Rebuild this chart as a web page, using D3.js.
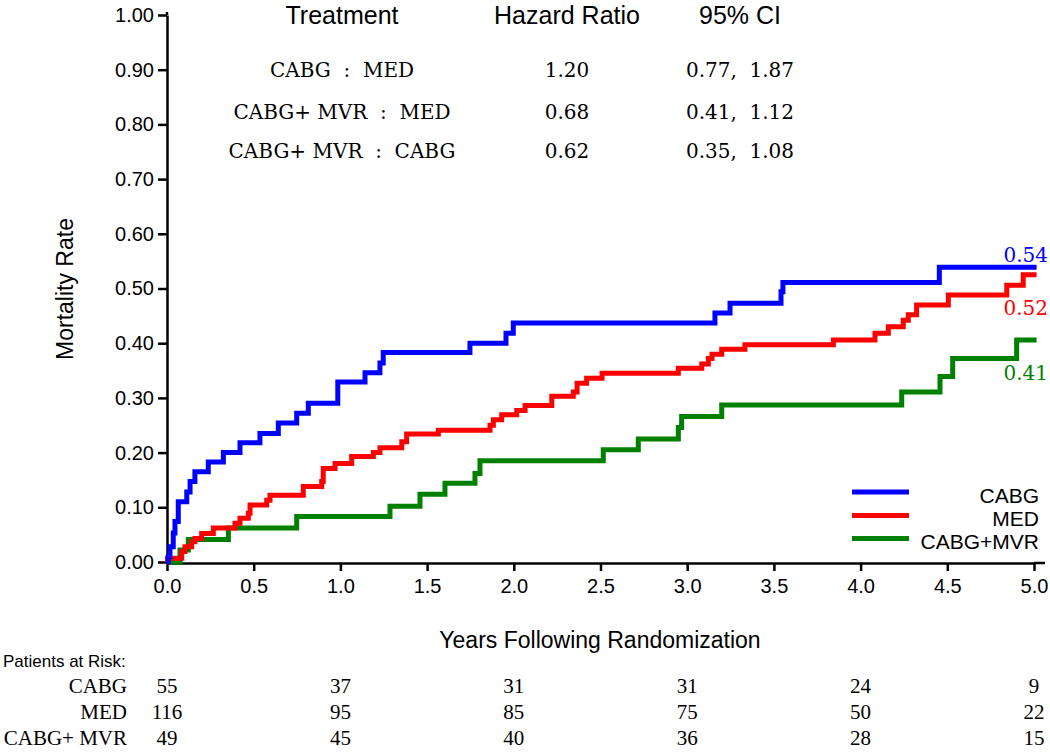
<!DOCTYPE html>
<html>
<head>
<meta charset="utf-8">
<script src="https://cdn.jsdelivr.net/npm/d3@7/dist/d3.min.js"></script>
<style>
  html, body { margin: 0; padding: 0; background: #fff; }
  svg { display: block; }
  text { white-space: pre; }
</style>
</head>
<body>
<svg id="chart" width="1050" height="752"></svg>
<script>
// ---------- DATA ----------
const seriesNames = ["CABG", "MED", "CABG+MVR"];
const seriesColors = ["#0000ff", "#ff0000", "#008000"];

const cabgYears = [0, 0.008, 0.017, 0.036, 0.046, 0.065, 0.114, 0.133, 0.161, 0.238, 0.325, 0.421, 0.536, 0.642, 0.748, 0.815, 0.985, 1.142, 1.228, 1.247, 1.747, 1.955, 1.997, 3.160, 3.247, 3.541, 3.552, 4.454, 5.015];
const cabgRates = [0, 0.010, 0.028, 0.053, 0.074, 0.110, 0.128, 0.147, 0.165, 0.183, 0.200, 0.218, 0.235, 0.254, 0.272, 0.290, 0.329, 0.346, 0.364, 0.383, 0.400, 0.418, 0.437, 0.455, 0.473, 0.494, 0.511, 0.539, 0.539];

const medYears = [0, 0.003, 0.085, 0.104, 0.142, 0.161, 0.200, 0.267, 0.392, 0.421, 0.469, 0.479, 0.575, 0.594, 0.786, 0.892, 0.901, 0.969, 1.065, 1.190, 1.228, 1.354, 1.382, 1.565, 1.863, 1.882, 1.930, 2.017, 2.065, 2.219, 2.343, 2.365, 2.420, 2.509, 2.949, 3.084, 3.122, 3.143, 3.199, 3.333, 3.843, 4.083, 4.160, 4.246, 4.275, 4.323, 4.506, 4.843, 4.938, 5.015];
const medRates = [0, 0.007, 0.019, 0.028, 0.037, 0.043, 0.052, 0.062, 0.071, 0.080, 0.089, 0.104, 0.113, 0.122, 0.138, 0.147, 0.171, 0.180, 0.193, 0.200, 0.209, 0.220, 0.234, 0.241, 0.250, 0.260, 0.269, 0.277, 0.286, 0.303, 0.311, 0.327, 0.336, 0.345, 0.354, 0.362, 0.372, 0.380, 0.389, 0.397, 0.406, 0.418, 0.430, 0.442, 0.452, 0.470, 0.488, 0.506, 0.525, 0.525];

const mvrYears = [0, 0.075, 0.123, 0.354, 0.748, 1.286, 1.459, 1.603, 1.776, 1.805, 2.516, 2.718, 2.949, 2.968, 3.199, 4.237, 4.458, 4.531, 4.900, 5.015];
const mvrRates = [0, 0.022, 0.041, 0.062, 0.083, 0.102, 0.124, 0.144, 0.162, 0.185, 0.205, 0.225, 0.246, 0.266, 0.287, 0.311, 0.339, 0.372, 0.406, 0.406];

const endLabels = ["0.54", "0.52", "0.41"];

const yTicks = [0, 0.1, 0.2, 0.3, 0.4, 0.5, 0.6, 0.7, 0.8, 0.9, 1.0];
const xTicks = [0, 0.5, 1, 1.5, 2, 2.5, 3, 3.5, 4, 4.5, 5];

const hrHeaders = ["Treatment", "Hazard Ratio", "95% CI"];
const hrComparisons = ["CABG  :  MED", "CABG+ MVR  :  MED", "CABG+ MVR  :  CABG"];
const hrValues = ["1.20", "0.68", "0.62"];
const hrCIs = ["0.77,  1.87", "0.41,  1.12", "0.35,  1.08"];

const riskYears = [0, 1, 2, 3, 4, 5];
const riskGroups = ["CABG", "MED", "CABG+ MVR"];
const riskCABG = [55, 37, 31, 31, 24, 9];
const riskMED = [116, 95, 85, 75, 50, 22];
const riskMVR = [49, 45, 40, 36, 28, 15];

// ---------- LAYOUT ----------
const svg = d3.select("#chart");
const x = d3.scaleLinear().domain([0, 5]).range([167, 1034]);
const y = d3.scaleLinear().domain([0, 1]).range([562, 15]);
const sans = "'Liberation Sans', Arial, sans-serif";
const serif = "'DejaVu Serif', serif";
const serif2 = "'Liberation Serif', 'Times New Roman', serif";

// axes
const yAxis = svg.append("g")
  .attr("transform", `translate(${x(0)},0)`)
  .call(d3.axisLeft(y).tickValues(yTicks).tickFormat(d3.format(".2f")).tickSize(9).tickSizeOuter(0).tickPadding(4));
const xAxis = svg.append("g")
  .attr("transform", `translate(0,${y(0) + 1})`)
  .call(d3.axisBottom(x).tickValues(xTicks).tickFormat(d3.format(".1f")).tickSize(8).tickSizeOuter(0).tickPadding(8));
[yAxis, xAxis].forEach(g => {
  g.select(".domain").attr("stroke", "#000").attr("stroke-width", 2.5);
  g.selectAll(".tick line").attr("stroke", "#000").attr("stroke-width", 2.5);
  g.selectAll(".tick text").attr("font-family", sans).attr("font-size", 20).attr("fill", "#000");
});
// axis line extension past 5.0
svg.append("line").attr("x1", x(5)).attr("x2", x(5) + 11)
  .attr("y1", y(0) + 1).attr("y2", y(0) + 1).attr("stroke", "#000").attr("stroke-width", 2.5);
svg.append("line").attr("x1", x(0)).attr("x2", x(0))
  .attr("y1", y(1) - 3).attr("y2", y(1)).attr("stroke", "#000").attr("stroke-width", 2.5);

// axis titles
svg.append("text").attr("x", 600).attr("y", 648).attr("text-anchor", "middle")
  .attr("font-family", sans).attr("font-size", 23).text("Years Following Randomization");
svg.append("text").attr("transform", "translate(73,289) rotate(-90)").attr("text-anchor", "middle")
  .attr("font-family", sans).attr("font-size", 23).text("Mortality Rate");

// curves
const seriesData = [
  d3.zip(cabgYears, cabgRates),
  d3.zip(medYears, medRates),
  d3.zip(mvrYears, mvrRates)
];
const line = d3.line().x(d => x(d[0])).y(d => y(d[1])).curve(d3.curveStepAfter);
[2, 1, 0].forEach(i => {
  svg.append("path").datum(seriesData[i])
    .attr("fill", "none").attr("stroke", seriesColors[i]).attr("stroke-width", 5)
    .attr("stroke-linejoin", "miter").attr("d", line);
});

// end labels
const endLabelY = [262, 315, 380];
endLabels.forEach((t, i) => {
  svg.append("text").attr("x", 1048).attr("y", endLabelY[i]).attr("text-anchor", "end")
    .attr("font-family", serif).attr("font-size", 20).attr("fill", seriesColors[i]).text(t);
});

// legend
const legY = [492, 515.5, 538.5];
seriesNames.forEach((n, i) => {
  svg.append("line").attr("x1", 852).attr("x2", 909).attr("y1", legY[i]).attr("y2", legY[i])
    .attr("stroke", seriesColors[i]).attr("stroke-width", 5);
  svg.append("text").attr("x", 1039).attr("y", legY[i] + 10.5).attr("text-anchor", "end")
    .attr("font-family", sans).attr("font-size", 21).text(n);
});

// hazard ratio table
const hrColX = [342, 567, 740];
hrHeaders.forEach((h, i) => {
  svg.append("text").attr("x", hrColX[i]).attr("y", 24).attr("text-anchor", "middle")
    .attr("font-family", sans).attr("font-size", 25).text(h);
});
const hrRowY = [77, 119, 158];
hrComparisons.forEach((c, i) => {
  svg.append("text").attr("x", hrColX[0]).attr("y", hrRowY[i]).attr("text-anchor", "middle")
    .attr("font-family", serif).attr("font-size", 20).text(c);
  svg.append("text").attr("x", hrColX[1]).attr("y", hrRowY[i]).attr("text-anchor", "middle")
    .attr("font-family", serif).attr("font-size", 20).text(hrValues[i]);
  svg.append("text").attr("x", hrColX[2]).attr("y", hrRowY[i]).attr("text-anchor", "middle")
    .attr("font-family", serif).attr("font-size", 20).text(hrCIs[i]);
});

// patients at risk
svg.append("text").attr("x", 3).attr("y", 667).attr("font-family", sans).attr("font-size", 17).text("Patients at Risk:");
const riskRowY = [693, 719, 745];
const riskRows = [riskCABG, riskMED, riskMVR];
riskGroups.forEach((g, i) => {
  svg.append("text").attr("x", 127).attr("y", riskRowY[i]).attr("text-anchor", "end")
    .attr("font-family", serif2).attr("font-size", 21).text(g);
  riskRows[i].forEach((v, j) => {
    svg.append("text").attr("x", x(riskYears[j])).attr("y", riskRowY[i]).attr("text-anchor", "middle")
      .attr("font-family", serif2).attr("font-size", 21).text(v);
  });
});
</script>
</body>
</html>
